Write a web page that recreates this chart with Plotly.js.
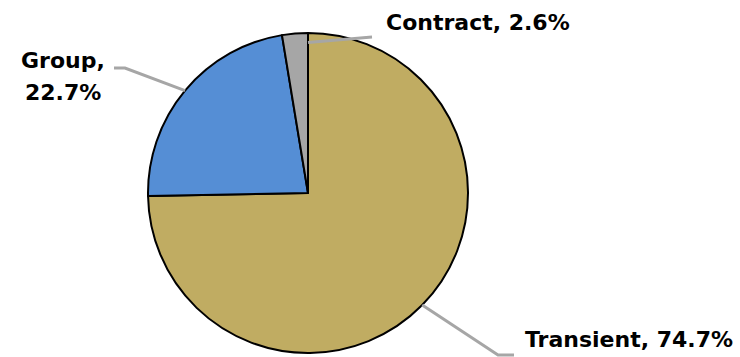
<!DOCTYPE html>
<html>
<head>
<meta charset="utf-8">
<script src="https://cdn.plot.ly/plotly-3.0.1.min.js"></script>
<style>html,body{margin:0;padding:0;background:#fff;}#chart{width:740px;height:357px;}</style>
</head>
<body>
<div id="chart"></div>
<script>
var labels = ["Transient", "Group", "Contract"];
var values = [74.7, 22.7, 2.6];
var colors = ["#C0AC62", "#558ED5", "#A6A6A6"];
var labelLine1 = ["Transient, 74.7%", "Group,", "Contract, 2.6%"];
var labelLine2 = ["", "22.7%", ""];

var W = 740, H = 357;
var cx = 308, cy = 193, R = 160;
function px(x){ return x / W; }
function py(y){ return 1 - y / H; }

// leader line anchor points derived from slice angles (clockwise from 12 o'clock)
var total = values.reduce(function(a,b){return a+b;}, 0);
var cum = 0, mids = [], ends = [];
values.forEach(function(v){
  mids.push((cum + v/2) / total * 2 * Math.PI);
  cum += v;
  ends.push(cum / total * 2 * Math.PI);
});
function pt(ang, r){ return [cx + r*Math.sin(ang), cy - r*Math.cos(ang)]; }

var pT = pt(mids[0], R);
var pG = pt(mids[1], R);
var pC = pt(ends[2], R*0.94);

var linePts = [
  [pT, [498, 355], [514, 355]],
  [pG, [125, 68], [114, 68]],
  [pC, [372, 37]]
];
var shapes = linePts.map(function(list){
  var d = list.map(function(p, i){ return (i ? "L" : "M") + px(p[0]) + "," + py(p[1]); }).join(" ");
  return {type: "path", xref: "paper", yref: "paper", path: d,
          line: {color: "#A6A6A6", width: 3}, layer: "above"};
});

var font = {family: "DejaVu Sans, sans-serif", size: 22, color: "#000"};
var annotations = [
  {x: px(523), y: py(339), xanchor: "left", yanchor: "middle", text: "<b>" + labelLine1[0] + "</b>"},
  {x: px(63), y: py(60), xanchor: "center", yanchor: "middle", text: "<b>" + labelLine1[1] + "</b>"},
  {x: px(63), y: py(93), xanchor: "center", yanchor: "middle", text: "<b>" + labelLine2[1] + "</b>"},
  {x: px(384), y: py(23), xanchor: "left", yanchor: "middle", text: "<b>" + labelLine1[2] + "</b>"}
].map(function(a){
  a.xref = "paper"; a.yref = "paper"; a.showarrow = false; a.font = font; return a;
});

var trace = {
  type: "pie",
  labels: labels,
  values: values,
  sort: false,
  direction: "clockwise",
  rotation: 0,
  marker: {colors: colors, line: {color: "#000", width: 2}},
  textinfo: "none",
  hoverinfo: "label+percent",
  domain: {x: [px(cx - R), px(cx + R)], y: [py(cy + R), py(cy - R)]}
};

var layout = {
  width: W, height: H,
  margin: {l: 0, r: 0, t: 0, b: 0},
  showlegend: false,
  paper_bgcolor: "#fff",
  shapes: shapes,
  annotations: annotations
};

Plotly.newPlot("chart", [trace], layout, {displayModeBar: false, staticPlot: true});
</script>
</body>
</html>
